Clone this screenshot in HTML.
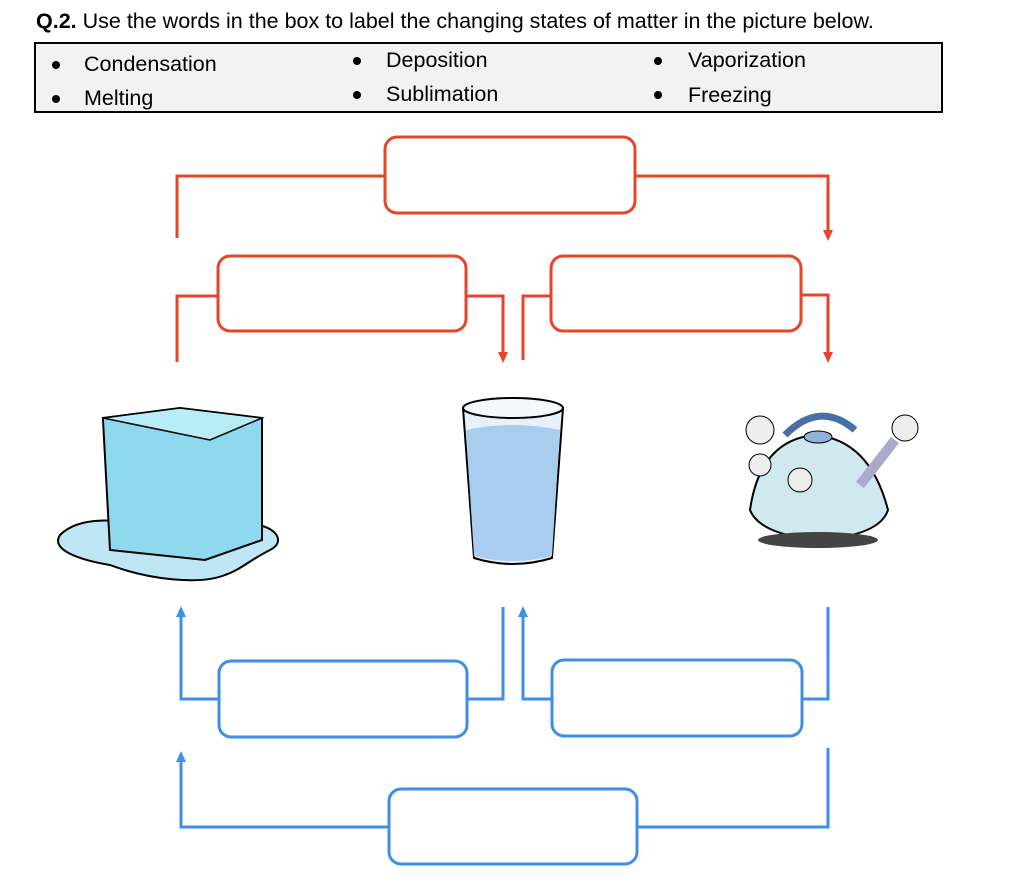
<!DOCTYPE html>
<html><head><style>
body{margin:0;background:#fff;width:1034px;height:888px;overflow:hidden;font-family:"Liberation Sans",sans-serif;}
.t{position:absolute;font-size:21.5px;color:#000;white-space:nowrap;line-height:24px}
.b{position:absolute;width:8px;height:8px;border-radius:50%;background:#000}
</style></head><body>
<div class="t" style="left:36px;top:9px;font-size:21.5px"><b>Q.2.</b> Use the words in the box to label the changing states of matter in the picture below.</div>
<div style="position:absolute;left:34px;top:42px;width:905px;height:67px;border:2px solid #000;background:#f2f2f2"></div>
<div class="b" style="left:52px;top:61px"></div><div class="t" style="left:84px;top:52px">Condensation</div>
<div class="b" style="left:52px;top:95px"></div><div class="t" style="left:84px;top:86px">Melting</div>
<div class="b" style="left:353px;top:57px"></div><div class="t" style="left:386px;top:48px">Deposition</div>
<div class="b" style="left:353px;top:91px"></div><div class="t" style="left:386px;top:82px">Sublimation</div>
<div class="b" style="left:654px;top:57px"></div><div class="t" style="left:688px;top:48px">Vaporization</div>
<div class="b" style="left:654px;top:91px"></div><div class="t" style="left:688px;top:83px">Freezing</div>
<svg width="1034" height="888" style="position:absolute;left:0;top:0">
<g fill="none" stroke="#e8442b" stroke-width="3">
<rect x="385" y="137" width="250" height="76" rx="12"/>
<polyline points="177,238 177,176 385,176"/>
<polyline points="635,176 828,176 828,232"/>
<rect x="218" y="256" width="248" height="75" rx="12"/>
<polyline points="177,362 177,296 218,296"/>
<polyline points="466,296 503,296 503,354"/>
<rect x="551" y="256" width="250" height="75" rx="12"/>
<polyline points="523,360 523,296 551,296"/>
<polyline points="801,295 828,295 828,354"/>
</g>
<g fill="#e8442b">
<path d="M823,230 L833,230 L828,241z"/>
<path d="M498,352 L508,352 L503,363z"/>
<path d="M823,352 L833,352 L828,363z"/>
</g>
<g fill="none" stroke="#3f8ee8" stroke-width="3">
<rect x="219" y="661" width="248" height="76" rx="12"/>
<polyline points="219,699 181,699 181,615"/>
<polyline points="467,699 503,699 503,607"/>
<rect x="552" y="660" width="250" height="76" rx="12"/>
<polyline points="552,699 523,699 523,615"/>
<polyline points="802,699 828,699 828,607"/>
<rect x="389" y="789" width="248" height="75" rx="12"/>
<polyline points="389,827 181,827 181,760"/>
<polyline points="637,827 828,827 828,748"/>
</g>
<g fill="#3f8ee8">
<path d="M176,617 L186,617 L181,606z"/>
<path d="M518,617 L528,617 L523,606z"/>
<path d="M176,762 L186,762 L181,751z"/>
</g>
<!-- ice -->
<path d="M60,535 C80,515 120,520 140,525 L240,525 C270,520 290,540 270,550 C250,560 240,570 225,575 C200,585 150,580 110,565 C80,560 50,550 60,535z" fill="#bfe6f5" stroke="#000" stroke-width="2"/>
<path d="M103,418 L180,408 L262,418 L262,540 L205,560 L110,550 L103,420z" fill="#8ed9ee" stroke="#000" stroke-width="2"/>
<path d="M103,418 L180,408 L262,418 L210,440 Z" fill="#b8ecf7" stroke="#000" stroke-width="1.5"/>
<!-- glass -->
<path d="M463,408 Q513,395 563,408 L552,558 Q513,570 474,558 Z" fill="#e6f1fa" stroke="#000" stroke-width="2"/>
<path d="M466,430 Q513,420 560,430 L552,556 Q513,566 474,556 Z" fill="#a9cdef"/>
<ellipse cx="513" cy="408" rx="50" ry="10" fill="#f4f9fd" stroke="#000" stroke-width="2"/>
<!-- kettle -->
<path d="M750,510 Q760,440 815,435 Q870,440 888,510 Q880,535 820,540 Q760,535 750,510z" fill="#cfe9ee" stroke="#000" stroke-width="2"/>
<ellipse cx="818" cy="540" rx="60" ry="8" fill="#444"/>
<path d="M785,435 Q820,400 855,430" fill="none" stroke="#4a6fa8" stroke-width="7"/>
<ellipse cx="818" cy="437" rx="14" ry="6" fill="#8fb4d8" stroke="#000"/>
<path d="M860,485 L895,440" stroke="#aac" stroke-width="10"/>
<circle cx="760" cy="430" r="14" fill="#eee" stroke="#000"/>
<circle cx="905" cy="428" r="13" fill="#eee" stroke="#000"/>
<circle cx="760" cy="465" r="11" fill="#eee" stroke="#000"/>
<circle cx="800" cy="480" r="12" fill="#eee" stroke="#000"/>
</svg>
</body></html>
